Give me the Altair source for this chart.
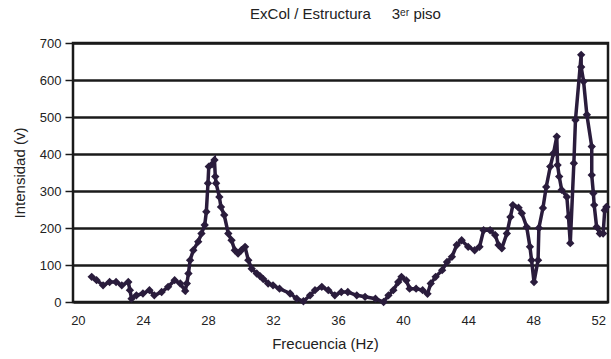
import altair as alt
import pandas as pd

freq = [20.85, 21.15, 21.55, 21.95, 22.35, 22.7, 23.1, 23.2, 23.3, 23.6,
        24.0, 24.4, 24.7, 25.15, 25.55, 25.95, 26.3, 26.6, 26.7, 26.8,
        26.9, 27.1, 27.4, 27.6, 27.8, 27.9, 28.0, 28.05, 28.25, 28.4,
        28.45, 28.5, 28.7, 28.8, 29.0, 29.25, 29.45, 29.65, 29.85, 30.05,
        30.28, 30.48, 30.69, 31.0, 31.2, 31.4, 31.7, 32.0, 32.4, 33.05,
        33.46, 33.87, 34.28, 34.58, 35.0, 35.4, 35.8, 36.2, 36.6, 37.15,
        37.66, 38.3, 38.8, 39.1, 39.4, 39.7, 39.9, 40.2, 40.4, 40.8,
        41.2, 41.5, 41.7, 42.0, 42.4, 42.7, 43.0, 43.3, 43.6, 44.0,
        44.4, 44.7, 44.95, 45.35, 45.66, 45.87, 46.07, 46.38, 46.6, 46.75,
        47.1, 47.3, 47.6, 47.8, 47.9, 48.05, 48.3, 48.35, 48.6, 48.8,
        49.05, 49.25, 49.45, 49.5, 49.6, 49.75, 50.07, 50.17, 50.28, 50.5,
        50.6, 50.95, 50.95, 51.1, 51.3, 51.6, 51.6, 51.7, 51.75, 51.9,
        52.1, 52.3, 52.4, 52.5]
intensity = [68, 59, 45, 54, 54, 45, 54, 32, 9, 18,
             23, 32, 18, 27, 41, 59, 50, 30, 50, 77,
             113, 140, 163, 185, 208, 244, 321, 366, 372, 384,
             339, 321, 284, 257, 235, 185, 167, 140, 131, 140,
             149, 113, 90, 77, 70, 62, 50, 45, 36, 23,
             9, 2, 18, 32, 41, 32, 18, 27, 27, 18,
             14, 9, 0, 18, 32, 54, 68, 58, 36, 36,
             32, 22, 50, 68, 86, 108, 122, 154, 167, 149,
             140, 149, 194, 194, 181, 154, 145, 185, 230, 262,
             255, 240, 203, 149, 113, 54, 113, 200, 254, 311,
             366, 402, 447, 370, 339, 303, 284, 230, 159, 375,
             492, 668, 635, 596, 506, 420, 343, 294, 262, 203,
             185, 185, 248, 257]

x_ticks = [20, 24, 28, 32, 36, 40, 44, 48, 52]
y_ticks = [0, 100, 200, 300, 400, 500, 600, 700]

df = pd.DataFrame({"f": freq, "v": intensity, "i": list(range(len(freq)))})

FONT = "Liberation Sans, Arial, DejaVu Sans, sans-serif"
INK = "#2a1c3c"
NB = "\u00a0"

x = alt.X("f:Q", scale=alt.Scale(domain=[19.7, 52.6], nice=False, zero=False),
          axis=alt.Axis(values=x_ticks, title="Frecuencia (Hz)", grid=False,
                        ticks=False, domain=False, labelPadding=12,
                        labelFontSize=13, titleFontSize=15, titlePadding=9,
                        titleX=252, titleFontWeight="normal",
                        labelColor="#222", titleColor="#222"))
y = alt.Y("v:Q", scale=alt.Scale(domain=[0, 700], nice=False),
          axis=alt.Axis(values=y_ticks, title="Intensidad (v)", grid=True,
                        gridColor="#1a1a1a", gridWidth=2.5, domain=False,
                        tickColor="#1a1a1a", tickWidth=1.5, tickSize=8,
                        labelPadding=4, labelFontSize=13, titleFontSize=15,
                        titlePadding=12, titleFontWeight="normal",
                        labelColor="#222", titleColor="#222"))

line = alt.Chart(df).mark_line(color=INK, strokeWidth=3.5).encode(
    x=x, y=y, order="i:Q")
pts = alt.Chart(df).mark_point(shape="diamond", filled=True, color=INK,
                               size=70, opacity=1).encode(x=x, y=y)

chart = (line + pts).properties(
    width=535, height=259,
    padding={"left": 73, "top": 43, "right": 3, "bottom": 57},
    autosize="none",
    title=alt.TitleParams("ExCol / Estructura" + NB * 5 + "3ᵉʳ piso",
                          fontSize=15, fontWeight="normal", color="#222",
                          offset=15, dx=5, font=FONT),
).configure(font=FONT).configure_view(stroke="#1a1a1a", strokeWidth=2.5)

chart.save("out.html", embed_options={"renderer": "svg", "actions": False})
